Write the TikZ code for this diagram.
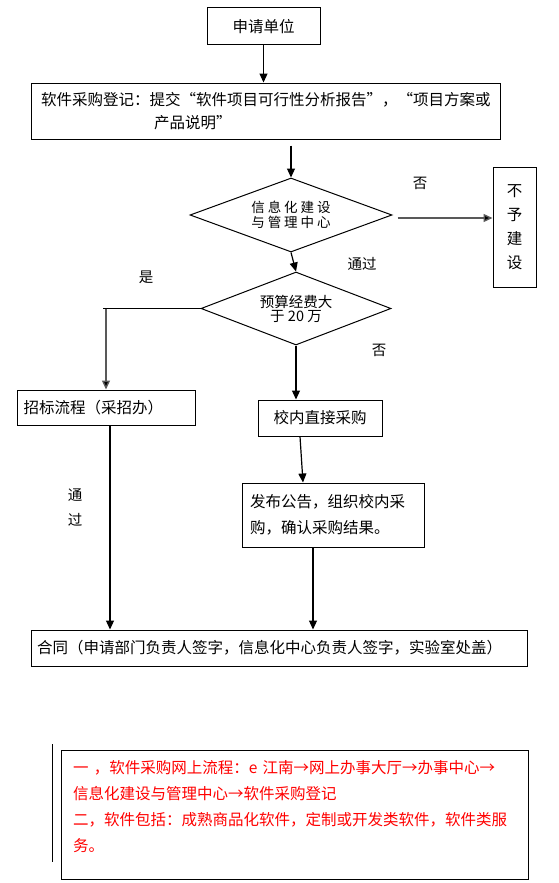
\documentclass[tikz,border=0pt]{standalone}
\usepackage{fontspec}
\setmainfont{Noto Sans CJK SC}
\usetikzlibrary{shapes.geometric,arrows.meta,calc}
\tikzset{
  box/.style={draw,line width=1pt,inner sep=0pt,font=\fontsize{15.5}{23}\selectfont},
  dia/.style={draw,diamond,line width=1pt,inner sep=0pt,aspect=2.6},
  lbl/.style={inner sep=0pt,font=\fontsize{14.5}{25}\selectfont},
  conn/.style={line width=1.2pt,-{Triangle[length=9pt,width=8pt]}},
  gconn/.style={line width=1.4pt,draw=black!65,-{Triangle[length=9pt,width=8pt,fill=black]}},
}
\begin{document}
\begin{tikzpicture}[x=1pt,y=-1pt]
\useasboundingbox (0,0) rectangle (559,883);
\node[box,minimum width=113pt,minimum height=37pt] (a) at (263.5,26.5) {申请单位};
\node[box,minimum width=469pt,minimum height=56pt,text width=449pt,align=left] (b) at (265.5,111)
  {软件采购登记：提交“软件项目可行性分析报告”，“项目方案或\\\hspace*{113pt}产品说明”};
\node[dia,minimum width=202pt,minimum height=74pt,font=\fontsize{13.5}{15}\selectfont\addfontfeature{LetterSpace=22},align=center] (d1) at (291,215) {信息化建设\\与管理中心};
\node[box,minimum width=43pt,minimum height=120pt,align=center,font=\fontsize{15.5}{24}\selectfont] (bu) at (514.5,227) {不\\予\\建\\设};
\node[dia,minimum width=190pt,minimum height=73pt,font=\fontsize{14.5}{14}\selectfont,align=center] (d2) at (296,308.5) {预算经费大\\于 20 万};
\node[box,minimum width=178pt,minimum height=35pt,text width=165pt,align=left] (zb) at (106,407.5) {招标流程（采招办）};
\node[box,minimum width=124pt,minimum height=36pt] (xn) at (320,418) {校内直接采购};
\node[box,minimum width=182pt,minimum height=64pt,text width=166pt,align=left,font=\fontsize{15.5}{26}\selectfont] (fb) at (333,515) {发布公告，组织校内采\\购，确认采购结果。};
\node[box,minimum width=496pt,minimum height=36pt,text width=484pt,align=left] (ht) at (279,648) {合同（申请部门负责人签字，信息化中心负责人签字，实验室处盖）};
% labels
\node[lbl] (l1) at (420,183) {否};
\node[lbl] (l2) at (362,264) {通过};
\node[lbl] (l3) at (146,277) {是};
\node[lbl] (l4) at (379,350) {否};
\node[lbl,align=center] (l5) at (75,508) {通\\过};
% connectors
\draw[conn] (a.south) -- (a.south |- b.north);
\draw[conn] ([shift={(25.5pt,-6pt)}]b.south) -- (d1.north);
\coordinate (c0) at ([xshift=5pt,yshift=-3pt]d1.east);
\draw[gconn] (c0) -- (c0 -| bu.west);
\draw[conn] (d1.south) -- (d2.north);
\draw[line width=1.2pt] (d2.west) -- (103,308.5) coordinate (c1);
\draw[gconn] (c1 -| zb.north) -- (zb.north);
\draw[conn] (d2.south) -- (d2.south |- xn.north);
\draw[conn] ([xshift=-20pt]xn.south) -- ([xshift=-30pt]fb.north);
\draw[conn] ([xshift=-20pt]fb.south) -- ([xshift=-20pt]fb.south |- ht.north);
\draw[conn] ([xshift=4pt]zb.south) -- ([xshift=4pt]zb.south |- ht.north);
% note
\coordinate (v1) at (52,744);
\coordinate (v2) at (52,862);
\draw[line width=1pt] (v1) -- (v2);
\node[draw,line width=1pt,minimum width=467pt,minimum height=129pt,inner sep=0pt] (note) at (294.5,814.5) {};
\node[anchor=north west,inner sep=0pt,text width=470pt,align=left,text=red,font=\fontsize{15.5}{26}\selectfont] (nt) at (73,760)
 {一 ，软件采购网上流程：e 江南→网上办事大厅→办事中心→\\信息化建设与管理中心→软件采购登记\\二，软件包括：成熟商品化软件，定制或开发类软件，软件类服\\务。};
\end{tikzpicture}
\end{document}
